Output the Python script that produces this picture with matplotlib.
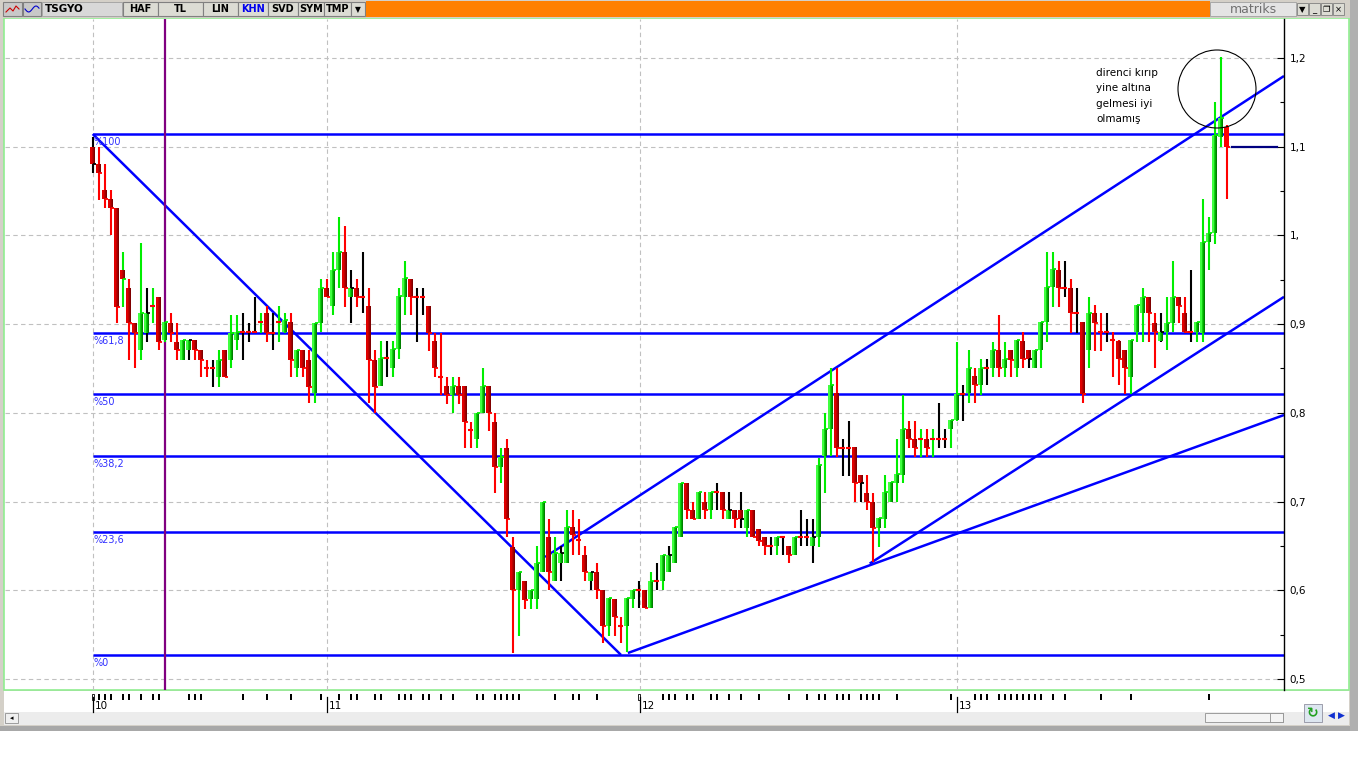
import matplotlib
matplotlib.use('Agg')
import matplotlib.pyplot as plt
import numpy as np
from matplotlib.patches import Rectangle, Ellipse

W, H = 1366, 768

# ---------------- data (weekly candles, TSGYO) ----------------
opens = [1.100, 1.081, 1.051, 1.041, 1.031, 0.961, 0.941, 0.901, 0.871, 0.890,
         0.920, 0.930, 0.882, 0.901, 0.880, 0.860, 0.871, 0.882, 0.871, 0.850,
         0.850, 0.840, 0.871, 0.860, 0.882, 0.891, 0.891, 0.891, 0.902, 0.913,
         0.890, 0.902, 0.891, 0.902, 0.850, 0.871, 0.860, 0.822, 0.901, 0.941,
         0.920, 0.961, 0.981, 0.930, 0.941, 0.930, 0.920, 0.860, 0.830, 0.862,
         0.850, 0.872, 0.930, 0.951, 0.930, 0.930, 0.920, 0.881, 0.840, 0.830,
         0.820, 0.830, 0.830, 0.781, 0.770, 0.800, 0.830, 0.790, 0.739, 0.760,
         0.649, 0.600, 0.610, 0.590, 0.590, 0.621, 0.660, 0.610, 0.631, 0.631,
         0.671, 0.657, 0.640, 0.610, 0.621, 0.600, 0.560, 0.590, 0.560, 0.560,
         0.590, 0.600, 0.600, 0.580, 0.610, 0.610, 0.620, 0.631, 0.660, 0.721,
         0.690, 0.680, 0.700, 0.690, 0.711, 0.711, 0.680, 0.690, 0.690, 0.670,
         0.690, 0.669, 0.660, 0.650, 0.650, 0.660, 0.650, 0.640, 0.660, 0.660,
         0.650, 0.660, 0.751, 0.782, 0.822, 0.760, 0.760, 0.761, 0.730, 0.710,
         0.700, 0.670, 0.680, 0.700, 0.721, 0.730, 0.782, 0.771, 0.771, 0.771,
         0.771, 0.771, 0.771, 0.782, 0.792, 0.821, 0.822, 0.841, 0.831, 0.851,
         0.851, 0.871, 0.851, 0.871, 0.851, 0.881, 0.871, 0.851, 0.871, 0.902,
         0.942, 0.961, 0.941, 0.941, 0.912, 0.902, 0.871, 0.912, 0.891, 0.891,
         0.882, 0.881, 0.871, 0.840, 0.891, 0.912, 0.931, 0.901, 0.881, 0.891,
         0.901, 0.930, 0.912, 0.891, 0.891, 0.890, 0.993, 1.003, 1.111, 1.122]
highs = [1.111, 1.100, 1.081, 1.051, 1.031, 0.981, 0.951, 0.901, 0.991, 0.941,
         0.941, 0.930, 0.902, 0.913, 0.901, 0.882, 0.882, 0.882, 0.871, 0.860,
         0.860, 0.871, 0.871, 0.910, 0.910, 0.913, 0.901, 0.930, 0.913, 0.920,
         0.913, 0.920, 0.913, 0.913, 0.871, 0.871, 0.871, 0.901, 0.951, 0.951,
         0.981, 1.021, 1.011, 0.961, 0.951, 0.981, 0.941, 0.871, 0.881, 0.881,
         0.881, 0.941, 0.971, 0.951, 0.941, 0.941, 0.920, 0.890, 0.890, 0.840,
         0.840, 0.840, 0.830, 0.790, 0.800, 0.850, 0.830, 0.800, 0.760, 0.770,
         0.660, 0.621, 0.610, 0.600, 0.650, 0.700, 0.680, 0.660, 0.650, 0.690,
         0.690, 0.680, 0.650, 0.621, 0.631, 0.600, 0.591, 0.590, 0.570, 0.591,
         0.600, 0.610, 0.600, 0.621, 0.631, 0.640, 0.650, 0.671, 0.721, 0.721,
         0.700, 0.711, 0.711, 0.711, 0.721, 0.711, 0.711, 0.690, 0.711, 0.690,
         0.690, 0.669, 0.660, 0.660, 0.660, 0.660, 0.650, 0.660, 0.690, 0.680,
         0.680, 0.749, 0.800, 0.850, 0.850, 0.771, 0.791, 0.761, 0.730, 0.730,
         0.710, 0.681, 0.730, 0.722, 0.771, 0.820, 0.791, 0.791, 0.782, 0.782,
         0.782, 0.811, 0.782, 0.792, 0.880, 0.831, 0.871, 0.851, 0.861, 0.861,
         0.880, 0.910, 0.880, 0.871, 0.882, 0.891, 0.871, 0.871, 0.902, 0.981,
         0.981, 0.971, 0.971, 0.951, 0.941, 0.902, 0.930, 0.921, 0.912, 0.912,
         0.891, 0.882, 0.871, 0.882, 0.921, 0.941, 0.931, 0.912, 0.912, 0.930,
         0.971, 0.930, 0.930, 0.961, 0.902, 1.041, 1.021, 1.150, 1.201, 1.124]
lows = [1.070, 1.040, 1.031, 1.000, 0.901, 0.919, 0.860, 0.850, 0.860, 0.880,
        0.901, 0.871, 0.880, 0.880, 0.860, 0.860, 0.860, 0.860, 0.840, 0.840,
        0.829, 0.829, 0.840, 0.850, 0.871, 0.860, 0.880, 0.891, 0.890, 0.880,
        0.871, 0.880, 0.890, 0.840, 0.840, 0.840, 0.811, 0.811, 0.891, 0.930,
        0.910, 0.941, 0.919, 0.901, 0.919, 0.913, 0.811, 0.800, 0.830, 0.840,
        0.840, 0.861, 0.910, 0.910, 0.880, 0.910, 0.870, 0.840, 0.820, 0.810,
        0.800, 0.810, 0.760, 0.760, 0.760, 0.800, 0.780, 0.710, 0.721, 0.660,
        0.529, 0.548, 0.579, 0.579, 0.579, 0.621, 0.600, 0.610, 0.610, 0.631,
        0.640, 0.640, 0.610, 0.600, 0.590, 0.540, 0.548, 0.548, 0.540, 0.530,
        0.580, 0.580, 0.580, 0.580, 0.600, 0.600, 0.620, 0.631, 0.660, 0.680,
        0.680, 0.680, 0.680, 0.680, 0.690, 0.680, 0.680, 0.670, 0.670, 0.660,
        0.660, 0.650, 0.640, 0.640, 0.640, 0.640, 0.631, 0.640, 0.650, 0.650,
        0.631, 0.649, 0.710, 0.751, 0.750, 0.729, 0.729, 0.699, 0.699, 0.690,
        0.632, 0.649, 0.670, 0.700, 0.700, 0.721, 0.760, 0.750, 0.750, 0.750,
        0.750, 0.760, 0.760, 0.760, 0.791, 0.791, 0.811, 0.811, 0.820, 0.831,
        0.840, 0.840, 0.840, 0.840, 0.840, 0.851, 0.851, 0.851, 0.851, 0.880,
        0.919, 0.919, 0.930, 0.890, 0.890, 0.811, 0.851, 0.870, 0.870, 0.880,
        0.840, 0.831, 0.821, 0.821, 0.880, 0.880, 0.880, 0.850, 0.880, 0.871,
        0.891, 0.901, 0.890, 0.880, 0.880, 0.880, 0.961, 0.990, 1.100, 1.041]
closes = [1.081, 1.070, 1.041, 1.031, 0.919, 0.951, 0.901, 0.890, 0.913, 0.913,
          0.920, 0.880, 0.902, 0.890, 0.871, 0.882, 0.882, 0.871, 0.860, 0.850,
          0.850, 0.860, 0.840, 0.890, 0.891, 0.891, 0.891, 0.891, 0.902, 0.890,
          0.890, 0.902, 0.905, 0.860, 0.871, 0.850, 0.829, 0.901, 0.941, 0.930,
          0.961, 0.981, 0.941, 0.941, 0.930, 0.930, 0.860, 0.829, 0.862, 0.862,
          0.872, 0.932, 0.952, 0.930, 0.930, 0.930, 0.890, 0.850, 0.840, 0.820,
          0.830, 0.820, 0.790, 0.781, 0.800, 0.830, 0.800, 0.739, 0.750, 0.680,
          0.600, 0.621, 0.589, 0.600, 0.631, 0.700, 0.621, 0.642, 0.642, 0.671,
          0.662, 0.657, 0.621, 0.621, 0.600, 0.560, 0.591, 0.570, 0.560, 0.591,
          0.600, 0.600, 0.580, 0.610, 0.610, 0.640, 0.640, 0.671, 0.721, 0.690,
          0.680, 0.711, 0.690, 0.711, 0.711, 0.690, 0.690, 0.680, 0.680, 0.690,
          0.660, 0.655, 0.650, 0.650, 0.660, 0.660, 0.640, 0.660, 0.660, 0.660,
          0.660, 0.741, 0.782, 0.831, 0.760, 0.760, 0.760, 0.721, 0.721, 0.700,
          0.670, 0.681, 0.711, 0.722, 0.731, 0.782, 0.771, 0.760, 0.771, 0.760,
          0.771, 0.771, 0.771, 0.792, 0.821, 0.821, 0.851, 0.831, 0.851, 0.851,
          0.871, 0.851, 0.861, 0.859, 0.882, 0.861, 0.861, 0.871, 0.902, 0.942,
          0.962, 0.941, 0.941, 0.912, 0.912, 0.821, 0.912, 0.901, 0.891, 0.891,
          0.882, 0.861, 0.851, 0.882, 0.921, 0.931, 0.912, 0.891, 0.891, 0.901,
          0.930, 0.920, 0.891, 0.891, 0.902, 0.993, 1.003, 1.113, 1.132, 1.100]

fib_high = 1.1143
fib_low = 0.527
fib_ratios = [1.0, 0.618, 0.5, 0.382, 0.236, 0.0]
fib_labels = ['%100', '%61,8', '%50', '%38,2', '%23,6', '%0']

# trend lines: (x0, y0, x1, y1) in candle index / price units
trend_lines = [(0.0, 1.1143, 88.05, 0.527),
               (75.4, 0.6374, 198.55, 1.1797),
               (89.2, 0.5292, 198.55, 0.7975),
               (129.5, 0.630, 198.55, 0.9307)]
marker_bar = 12          # purple vertical marker (candle index)

year_pos = [0, 39, 91.2, 144]
year_labels = ['10', '11', '12', '13']
event_marks = [1, 2, 3, 5, 6, 8, 10, 11, 16, 17, 18, 25, 29, 33, 38, 41, 43, 44,
               47, 48, 51, 52, 53, 55, 56, 58, 60, 64, 65, 67, 68, 69, 70, 71, 77,
               80, 81, 84, 95, 96, 97, 99, 100, 103, 104, 106, 108, 111, 116, 119,
               121, 122, 124, 125, 126, 128, 129, 130, 131, 134, 143, 147, 148,
               149, 151, 152, 153, 154, 155, 156, 157, 158, 160, 162, 168, 173, 186]
hollow_marks = [0, 91]

y_ticks = [0.5, 0.6, 0.7, 0.8, 0.9, 1.0, 1.1, 1.2]
y_ticklabels = ['0,5', '0,6', '0,7', '0,8', '0,9', '1,', '1,1', '1,2']
y_minor = [0.55, 0.65, 0.75, 0.85, 0.95, 1.05, 1.15]

note_lines = ['direnci kırıp', 'yine altına', 'gelmesi iyi', 'olmamış']

# ---------------- geometry ----------------
X0, DX = 92.7, 6.0          # pixel x of candle 0, pixels per candle
YREF, PPU = 58.0, 887.0      # pixel y of 1.2, pixels per price unit
AX_L, AX_R, AX_T, AX_B = 5, 1284, 19, 690

def px2i(x):
    return (x - X0) / DX

def py2v(y):
    return 1.2 - (y - YREF) / PPU

fig = plt.figure(figsize=(W / 100, H / 100), dpi=100)
fig.patch.set_facecolor('white')

# background / chrome axes in pixel coordinates
bg = fig.add_axes([0, 0, 1, 1])
bg.set_xlim(0, W)
bg.set_ylim(H, 0)
bg.axis('off')
bg.set_zorder(0)

def rect(x, y, w, h, fc, ec='none', lw=0, z=1):
    bg.add_patch(Rectangle((x, y), w, h, facecolor=fc, edgecolor=ec, linewidth=lw, zorder=z))

gray = '#d4d0c8'
# outer frame
rect(0, 0, 1358, 731, gray)
rect(4, 18, 1345, 672, 'white', ec='#90ee90', lw=1.2, z=2)      # chart area
rect(4, 691, 1345, 21, 'white', z=2)                               # time axis band
rect(4, 712, 1345, 13, '#ececec', z=2)                             # scroll row
rect(0, 726, 1358, 5, '#a8a8a8', z=2)
rect(1350, 0, 8, 731, '#b0b0b0', z=2)

# toolbar
rect(0, 0, 1350, 18, gray, z=3)
rect(3, 2, 19, 14, '#c8c8c8', ec='#808080', lw=0.8, z=4)
bg.plot([6, 10, 13, 16, 19], [12, 8, 11, 6, 9], color='#cc0000', lw=0.8, zorder=5)
rect(23, 2, 18, 14, '#c8c8c8', ec='#808080', lw=0.8, z=4)
bg.plot(np.linspace(25, 39, 15), 9 + 3 * np.sin(np.linspace(0, 6, 15)), color='#0000cc', lw=0.8, zorder=5)
rect(42, 2, 80, 14, '#d8d8d8', ec='#a0a0a0', lw=0.6, z=4)
bg.text(45, 9.5, 'TSGYO', fontsize=7.5, fontweight='bold', va='center', ha='left', zorder=6)
buttons = [('HAF', 123, 158, 'black'), ('TL', 158, 203, 'black'), ('LIN', 203, 238, 'black'),
           ('KHN', 238, 268, '#0000ee'), ('SVD', 268, 298, 'black'), ('SYM', 298, 324, 'black'),
           ('TMP', 324, 351, 'black')]
for lab, xa, xb, col in buttons:
    rect(xa, 2, xb - xa, 14, '#dcdcd4', ec='#808080', lw=0.8, z=4)
    bg.text((xa + xb) / 2, 9.5, lab, fontsize=7, fontweight='bold', color=col,
            ha='center', va='center', zorder=6)
rect(351, 2, 14, 14, '#dcdcd4', ec='#808080', lw=0.8, z=4)
bg.text(358, 9.5, '▼', fontsize=5.5, ha='center', va='center', zorder=6)
rect(366, 1, 844, 16, '#ff8000', z=4)
rect(1210, 2, 86, 14, '#e4e4e4', ec='#a0a0a0', lw=0.6, z=4)
bg.text(1253, 9.5, 'matriks', fontsize=9, color='#707070', ha='center', va='center', zorder=6)
for k, sym in enumerate(['▼', '_', '❐', '×']):
    xa = 1297 + 12 * k
    rect(xa, 3, 11, 12, '#dcdcd4', ec='#808080', lw=0.6, z=4)
    bg.text(xa + 5.5, 9.5, sym, fontsize=6, ha='center', va='center', zorder=6)

# scroll row widgets
rect(5, 713, 13, 10, '#f0f0f0', ec='#909090', lw=0.6, z=4)
bg.text(11.5, 718, '◂', fontsize=5, ha='center', va='center', zorder=6)
rect(1205, 713, 78, 9, '#f4f4f4', ec='#909090', lw=0.6, z=4)
rect(1270, 713, 13, 9, '#f4f4f4', ec='#909090', lw=0.6, z=5)
rect(1304, 704, 18, 18, '#dde6f0', ec='#9090a0', lw=0.6, z=4)
bg.text(1313, 713, '↻', fontsize=10, color='#20a020', ha='center', va='center', zorder=6, fontweight='bold')
bg.text(1331, 715, '◀', fontsize=6.5, color='#1030d0', ha='center', va='center', zorder=6)
bg.text(1341, 715, '▶', fontsize=6.5, color='#1030d0', ha='center', va='center', zorder=6)

# ---------------- main price axes ----------------
ax = fig.add_axes([AX_L / W, 1 - AX_B / H, (AX_R - AX_L) / W, (AX_B - AX_T) / H])
ax.set_zorder(2)
ax.patch.set_visible(False)
ax.set_xlim(px2i(AX_L), px2i(AX_R))
ax.set_ylim(py2v(AX_B), py2v(AX_T))
for s in ['left', 'top', 'bottom']:
    ax.spines[s].set_visible(False)
ax.spines['right'].set_color('black')
ax.spines['right'].set_linewidth(1.0)
ax.yaxis.tick_right()
ax.set_yticks(y_ticks)
ax.set_yticklabels(y_ticklabels)
ax.set_yticks(y_minor, minor=True)
ax.tick_params(axis='y', which='major', direction='in', length=5, width=0.8, pad=4,
               labelsize=7.5, colors='black')
ax.tick_params(axis='y', which='minor', direction='in', length=3, width=0.8)
ax.set_xticks([])

# grid
for v in y_ticks:
    ax.axhline(v, color='#c0c0c0', lw=0.8, ls=(0, (4, 3)), zorder=1)
for p in year_pos:
    ax.axvline(p, color='#c0c0c0', lw=0.8, ls=(0, (4, 3)), zorder=1)

# fibonacci levels
for r, lab in zip(fib_ratios, fib_labels):
    lvl = fib_low + r * (fib_high - fib_low)
    ax.plot([0, px2i(AX_R)], [lvl, lvl], color='#0000ff', lw=1.8, zorder=2, solid_capstyle='butt')
    ax.text(0.1, lvl - 3 / PPU, lab, color='#3030ff', fontsize=7, ha='left', va='top', zorder=6)

# trend lines
for x0, y0, x1, y1 in trend_lines:
    ax.plot([x0, x1], [y0, y1], color='#0000ff', lw=1.8, zorder=2, solid_capstyle='butt')

# purple marker
ax.axvline(marker_bar, color='#800080', lw=1.6, zorder=2)

# candles
o = np.array(opens); h = np.array(highs); l = np.array(lows); c = np.array(closes)
idx = np.arange(len(o))
prev = np.concatenate([[c[0]], c[:-1]])
wick_col = np.where(np.isclose(c, prev), 'black', np.where(c > prev, '#00ee00', '#ff0000'))
ax.vlines(idx, l, h, colors=wick_col, lw=1.5, zorder=3)

bw = 0.78
up = c > o + 1e-9
dn = c < o - 1e-9
green_shades = ['#40ff40', '#10d010', '#00a800', '#008000']
red_shades = ['#e00000', '#c00000', '#a00000', '#800000']
nstrip = 4
for k in range(nstrip):
    off = -bw / 2 + (k + 0.5) * bw / nstrip
    ax.bar(idx[up] + off, (c - o)[up], bottom=o[up], width=bw / nstrip + 0.01,
           color=green_shades[k], linewidth=0, zorder=4)
    ax.bar(idx[dn] + off, (o - c)[dn], bottom=c[dn], width=bw / nstrip + 0.01,
           color=red_shades[k], linewidth=0, zorder=4)
# last candle drawn plain red
last = len(o) - 1
ax.bar([last], [o[last] - c[last]], bottom=[c[last]], width=bw, color='#ff0000',
       linewidth=0, zorder=4.5)

# close ticks
doji = ~(up | dn)
ax.hlines(c[doji], idx[doji] - 0.45, idx[doji] + 0.45, colors='#ff0000', lw=1.5, zorder=5)
ax.hlines(c[~doji], idx[~doji] + 0.1, idx[~doji] + 0.6, colors=wick_col[~doji], lw=1.3, zorder=5)

# last price line
ax.plot([px2i(1232), px2i(1277)], [c[-1], c[-1]], color='#000080', lw=1.6, zorder=3)

# annotation circle and note
ax.add_patch(Ellipse((px2i(1217), py2v(89)), 78 / DX, 78 / PPU, fill=False,
                     edgecolor='black', lw=0.8, zorder=6))
for k, t in enumerate(note_lines):
    ax.text(px2i(1096), py2v(73 + 15.3 * k), t, fontsize=7.5, ha='left', va='center',
            color='black', zorder=6)

# ---------------- time axis band ----------------
for m in event_marks:
    xp = X0 + DX * m
    rect(xp - 1, 694, 2.4, 6, 'black', z=5)
for m in hollow_marks:
    xp = X0 + DX * m
    rect(xp - 1, 694, 2.4, 6, 'white', ec='black', lw=0.6, z=5)
for p, lab in zip(year_pos, year_labels):
    xp = X0 + DX * p
    bg.plot([xp, xp], [697, 712], color='black', lw=0.9, zorder=5)
    bg.text(xp + 2, 706, lab, fontsize=7.5, ha='left', va='center', zorder=6)

fig.savefig('out.png', dpi=100)
